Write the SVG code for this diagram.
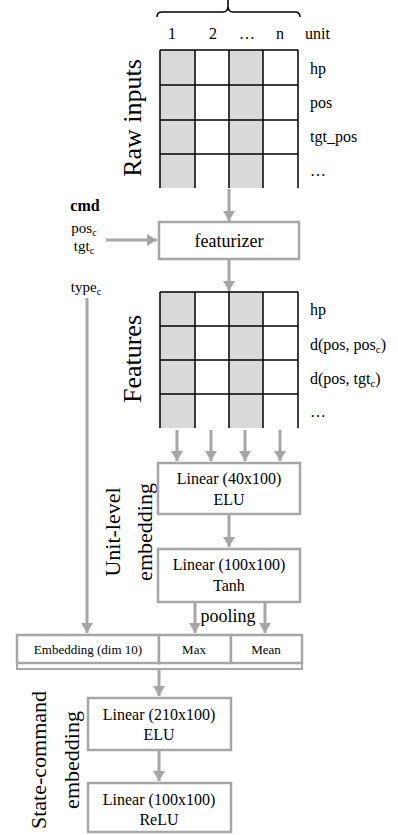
<svg xmlns="http://www.w3.org/2000/svg" width="398" height="835" viewBox="0 0 398 835">
<style>
text{font-family:"Liberation Serif","Times New Roman",serif;fill:#000}
.g{fill:#d9d9d9;stroke:none}
.grid{stroke:#000;stroke-width:1.5;fill:none}
.box{fill:#fff;stroke:#a6a6a6;stroke-width:2.5}
.arr{stroke:#a6a6a6;stroke-width:3;fill:none;marker-end:url(#ah)}
.lbl{font-size:16px}
.mid{text-anchor:middle}
</style>
<defs>
<marker id="ah" markerUnits="userSpaceOnUse" markerWidth="12" markerHeight="12" refX="10" refY="6" orient="auto">
<path d="M0,0 L10,6 L0,12 z" fill="#a6a6a6"/>
</marker>
</defs>

<g id="brace">
<path d="M157,17 Q157,12 162,12 L223,12 Q228,12 228,6 L228,0 M228,6 Q228,12 233,12 L295,12 Q300,12 300,17" stroke="#000" stroke-width="1.5" fill="none"/>
</g>

<g id="raw-inputs">
<text class="lbl mid" x="172" y="39">1</text>
<text class="lbl mid" x="213" y="39">2</text>
<text class="lbl mid" x="247" y="39">…</text>
<text class="lbl mid" x="280" y="39">n</text>
<text class="lbl" x="305" y="39">unit</text>
<rect class="g" x="160" y="50" width="35" height="138"/>
<rect class="g" x="229" y="50" width="34" height="138"/>
<path class="grid" d="M160,50H298M160,85H298M160,120H298M160,154H298M160,50V188M195,50V188M229,50V188M263,50V188M298,50V188"/>
<text class="lbl" x="310" y="74">hp</text>
<text class="lbl" x="310" y="108">pos</text>
<text class="lbl" x="310" y="142">tgt_pos</text>
<text class="lbl" x="310" y="176">…</text>
<text transform="translate(141,118) rotate(-90)" class="mid" style="font-size:26px">Raw inputs</text>
</g>

<g id="cmd">
<text x="85" y="211" class="mid" style="font-size:16px;font-weight:bold">cmd</text>
<text x="84" y="233" class="mid" style="font-size:15px">pos<tspan style="font-size:10px" dy="3">c</tspan></text>
<text x="84" y="251" class="mid" style="font-size:15px">tgt<tspan style="font-size:10px" dy="3">c</tspan></text>
<text x="86" y="292" class="mid" style="font-size:15px">type<tspan style="font-size:10px" dy="3">c</tspan></text>
</g>

<g id="featurizer">
<rect class="box" x="159" y="222" width="140" height="37"/>
<text x="229" y="247" class="mid" style="font-size:18px">featurizer</text>
</g>

<g id="features">
<rect class="g" x="160" y="292" width="35" height="136"/>
<rect class="g" x="229" y="292" width="34" height="136"/>
<path class="grid" d="M160,292H298M160,326H298M160,360H298M160,394H298M160,292V428M195,292V428M229,292V428M263,292V428M298,292V428"/>
<text class="lbl" x="310" y="315">hp</text>
<text class="lbl" x="310" y="350">d(pos, pos<tspan style="font-size:11px" dy="3">c</tspan><tspan dy="-3">)</tspan></text>
<text class="lbl" x="310" y="384">d(pos, tgt<tspan style="font-size:11px" dy="3">c</tspan><tspan dy="-3">)</tspan></text>
<text class="lbl" x="310" y="417">…</text>
<text transform="translate(141,359) rotate(-90)" class="mid" style="font-size:26px">Features</text>
</g>

<g id="unit-label">
<text transform="translate(120,532) rotate(-90)" class="mid" style="font-size:22px">Unit-level</text>
<text transform="translate(152,532) rotate(-90)" class="mid" style="font-size:22px">embedding</text>
</g>

<g id="linear1">
<rect class="box" x="158" y="463" width="142" height="51"/>
<text x="229" y="484" class="mid" style="font-size:16px">Linear (40x100)</text>
<text x="229" y="505" class="mid" style="font-size:16px">ELU</text>
</g>

<g id="linear2">
<rect class="box" x="158" y="549" width="142" height="53"/>
<text x="229" y="570" class="mid" style="font-size:16px">Linear (100x100)</text>
<text x="229" y="591" class="mid" style="font-size:16px">Tanh</text>
</g>

<g id="pooling-label">
<text x="228" y="622" class="mid" style="font-size:18px">pooling</text>
</g>

<g id="concat">
<rect class="box" x="17" y="635" width="142" height="28"/>
<rect class="box" x="159" y="635" width="72" height="28"/>
<rect class="box" x="231" y="635" width="71" height="28"/>
<text x="88" y="654" class="mid" style="font-size:13px">Embedding (dim 10)</text>
<text x="194" y="654" class="mid" style="font-size:13px">Max</text>
<text x="266" y="654" class="mid" style="font-size:13px">Mean</text>
<path d="M17,663 V669 H302 V663" stroke="#a6a6a6" stroke-width="2" fill="none"/>
</g>

<g id="state-label">
<text transform="translate(46,760) rotate(-90)" class="mid" style="font-size:22px">State-command</text>
<text transform="translate(79,760) rotate(-90)" class="mid" style="font-size:22px">embedding</text>
</g>

<g id="linear3">
<rect class="box" x="88" y="698" width="143" height="52"/>
<text x="159" y="720" class="mid" style="font-size:16px">Linear (210x100)</text>
<text x="159" y="740" class="mid" style="font-size:16px">ELU</text>
</g>

<g id="linear4">
<rect class="box" x="88" y="783" width="143" height="49"/>
<text x="159" y="805" class="mid" style="font-size:16px">Linear (100x100)</text>
<text x="159" y="825" class="mid" style="font-size:16px">ReLU</text>
</g>

<g id="connectors">
<line class="arr" x1="229" y1="189" x2="229" y2="221"/>
<line class="arr" x1="106" y1="240" x2="157" y2="240"/>
<line class="arr" x1="229" y1="260" x2="229" y2="291"/>
<line class="arr" x1="177" y1="430" x2="177" y2="461"/>
<line class="arr" x1="211" y1="430" x2="211" y2="461"/>
<line class="arr" x1="245" y1="430" x2="245" y2="461"/>
<line class="arr" x1="280" y1="430" x2="280" y2="461"/>
<line class="arr" x1="229" y1="515" x2="229" y2="547"/>
<line class="arr" x1="195" y1="603" x2="195" y2="633"/>
<line class="arr" x1="265" y1="603" x2="265" y2="633"/>
<line class="arr" x1="87" y1="298" x2="87" y2="633"/>
<line class="arr" x1="159" y1="670" x2="159" y2="696"/>
<line class="arr" x1="159" y1="751" x2="159" y2="781"/>
</g>
</svg>
